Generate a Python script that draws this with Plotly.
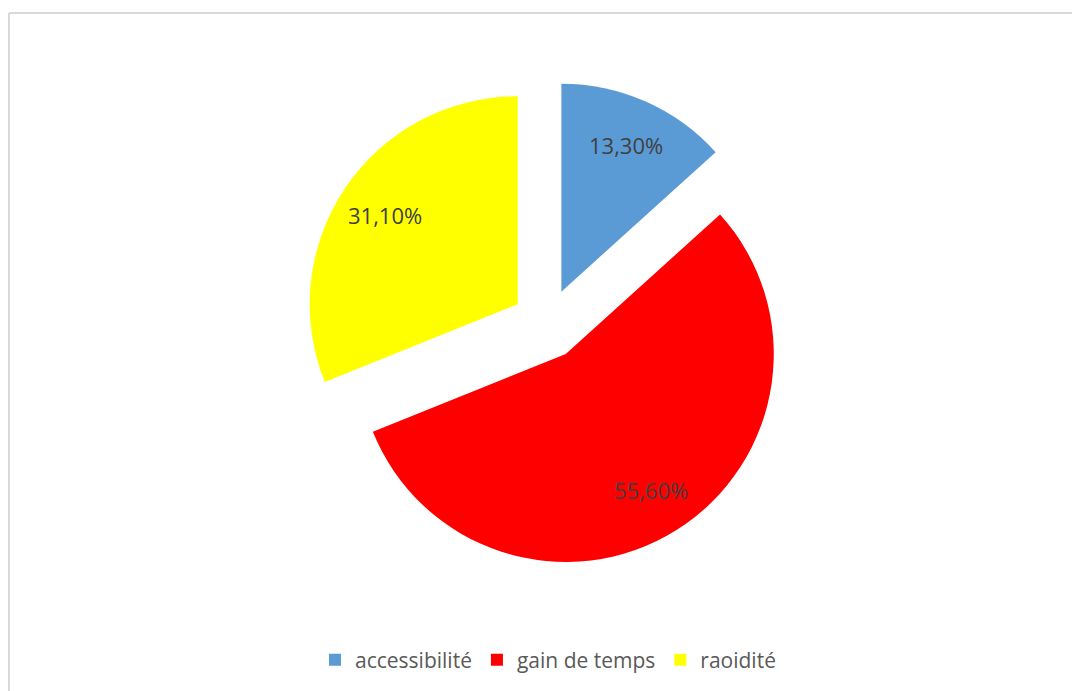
import math
import plotly.graph_objects as go

# Survey shares (percent)
categories = ["accessibilité", "gain de temps", "raoidité"]
values = [13.30, 55.60, 31.10]
colors = ["#5B9BD5", "#FF0000", "#FFFF00"]

labels_text = [f"{v:.2f}%".replace(".", ",") for v in values]

W, H = 1072, 691
cx, cy = 547, 324          # pie centre (px)
pull = 0.17
r = 208
box = 2 * r * (1 + pull)   # plotly sizes the radius so pulled slices fit the domain
label_frac = 0.77          # label distance from the slice tip, as a fraction of r

fig = go.Figure(
    go.Pie(
        labels=categories,
        values=values,
        textinfo="none",
        marker=dict(colors=colors, line=dict(width=0)),
        pull=[pull] * len(values),
        sort=False,
        direction="clockwise",
        rotation=0,
        hoverinfo="label+percent",
        domain=dict(
            x=[(cx - box / 2) / W, (cx + box / 2) / W],
            y=[1 - (cy + box / 2) / H, 1 - (cy - box / 2) / H],
        ),
    )
)

# Value labels placed along each slice's bisector
total = sum(values)
annotations = []
cum = 0.0
for v, txt in zip(values, labels_text):
    mid = (cum + v / 2) / total * 2 * math.pi   # clockwise from 12 o'clock
    cum += v
    dx, dy = math.sin(mid), -math.cos(mid)
    dist = r * (pull + label_frac)
    px, py = cx + dx * dist, cy + dy * dist
    annotations.append(dict(
        x=px / W, y=1 - py / H, xref="paper", yref="paper",
        text=txt, showarrow=False, xanchor="center", yanchor="middle",
        font=dict(family="Open Sans", size=22, color="#404040"),
    ))

fig.update_layout(
    width=W,
    height=H,
    margin=dict(l=0, r=0, t=0, b=0),
    paper_bgcolor="white",
    plot_bgcolor="white",
    showlegend=True,
    legend=dict(
        orientation="h",
        x=548 / W,
        xanchor="center",
        y=1 - 660 / H,
        yanchor="middle",
        font=dict(family="Open Sans", size=21, color="#595959"),
        itemwidth=30,
        traceorder="normal",
    ),
    annotations=annotations,
    shapes=[
        dict(type="line", xref="paper", yref="paper",
             x0=9 / W, x1=1.0, y0=1 - 13 / H, y1=1 - 13 / H,
             line=dict(color="#D9D9D9", width=2)),
        dict(type="line", xref="paper", yref="paper",
             x0=9 / W, x1=9 / W, y0=0, y1=1 - 13 / H,
             line=dict(color="#D9D9D9", width=2)),
    ],
)

fig.write_html("out.html")
